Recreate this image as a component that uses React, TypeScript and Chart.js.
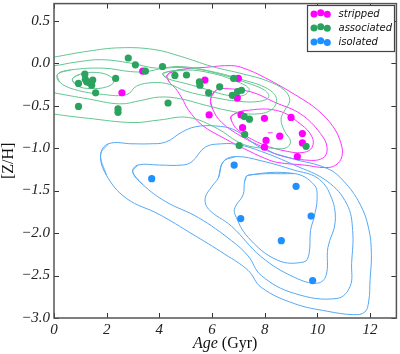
import React, { useEffect, useRef } from 'react';
import { Chart, registerables } from 'chart.js';
Chart.register(...registerables);

// ---- data ----
const xTickValues = [0, 2, 4, 6, 8, 10, 12];
const yTickValues = [-3.0, -2.5, -2.0, -1.5, -1.0, -0.5, 0.0, 0.5];

const seriesNames = ['stripped', 'associated', 'isolated'];

const strippedAge = [2.58, 3.37, 5.73, 7.00, 6.96, 5.89, 7.10, 7.99, 9.00, 7.16, 8.57, 8.05, 9.43, 9.43, 7.99, 9.24];
const strippedZH = [-0.35, -0.095, -0.20, -0.18, -0.41, -0.61, -0.61, -0.65, -0.64, -0.76, -0.86, -0.91, -0.83, -0.94, -0.99, -1.10];

const associatedAge = [0.93, 1.17, 1.19, 1.24, 1.34, 1.47, 1.43, 1.58, 0.93, 2.34, 2.43, 2.43, 2.82, 3.09, 3.47, 4.12, 4.33, 4.59, 5.03, 5.52, 5.54, 5.87, 6.29, 6.82, 6.97, 7.12, 6.77, 7.22, 7.42, 7.24, 9.57, 7.03];
const associatedZH = [-0.24, -0.13, -0.19, -0.22, -0.23, -0.20, -0.26, -0.35, -0.51, -0.18, -0.54, -0.58, 0.06, -0.02, -0.095, -0.04, -0.47, -0.145, -0.14, -0.22, -0.26, -0.35, -0.28, -0.18, -0.335, -0.32, -0.38, -0.63, -0.66, -0.84, -0.98, -0.97];

const isolatedAge = [3.71, 6.84, 9.19, 7.09, 9.76, 8.63, 9.82];
const isolatedZH = [-1.36, -1.20, -1.45, -1.83, -1.80, -2.09, -2.56];

// contour outlines (age, [Z/H])
const greenLevel1 = [[-0.5, 0.04], [0, 0.07], [1.3, 0.14], [2.5, 0.18], [3.8, 0.16], [4.8, 0.08], [6.0, -0.04], [7.2, -0.13], [8.1, -0.21], [8.75, -0.32], [8.95, -0.44], [8.75, -0.56], [8.62, -0.66], [8.75, -0.8], [8.98, -0.92], [8.8, -1.0], [8.2, -1.0], [7.6, -0.99], [7.0, -0.93], [6.2, -0.77], [5.1, -0.64], [4.0, -0.67], [3.0, -0.70], [1.3, -0.65], [0, -0.6], [-0.5, -0.57]];
const greenLevel2 = [[-0.5, -0.02], [0, -0.03], [0.8, 0.01], [1.8, 0.04], [2.9, 0.0], [3.9, -0.06], [4.8, -0.04], [6.0, -0.1], [7.2, -0.2], [8.1, -0.3], [8.45, -0.42], [8.25, -0.55], [7.6, -0.6], [6.8, -0.57], [5.8, -0.5], [4.8, -0.42], [4.0, -0.40], [3.3, -0.44], [2.5, -0.48], [1.27, -0.42], [0, -0.35], [-0.5, -0.32]];
const greenLevel3 = [[0.14, -0.13], [0.64, -0.08], [1.89, -0.06], [2.9, -0.1], [3.5, -0.1], [4.2, -0.06], [5.2, -0.06], [6.3, -0.13], [7.3, -0.23], [8.0, -0.32], [8.15, -0.40], [7.8, -0.45], [7.0, -0.45], [6.0, -0.40], [5.0, -0.33], [4.39, -0.25], [3.77, -0.23], [3.14, -0.27], [2.77, -0.37], [1.89, -0.37], [0.77, -0.31], [0.2, -0.22]];
const greenLevel4a = [[0.7, -0.19], [1.0, -0.13], [1.6, -0.11], [2.1, -0.15], [2.27, -0.22], [2.0, -0.28], [1.4, -0.30], [0.9, -0.27]];
const greenLevel4b = [[4.14, -0.12], [5.0, -0.08], [6.0, -0.12], [6.8, -0.2], [7.4, -0.3], [7.2, -0.38], [6.6, -0.38], [5.8, -0.31], [5.0, -0.24], [4.3, -0.18]];

const magentaLevel1 = [[4.3, -0.14], [4.74, -0.08], [5.74, -0.05], [6.74, -0.03], [7.2, -0.06], [8.0, -0.17], [9.3, -0.40], [10.0, -0.55], [10.6, -0.75], [10.9, -0.95], [10.93, -1.10], [10.7, -1.2], [10.3, -1.23], [9.5, -1.2], [8.5, -1.17], [8.0, -1.12], [7.24, -1.01], [6.49, -0.89], [5.62, -0.73], [5.1, -0.55], [4.87, -0.42], [4.62, -0.30], [4.37, -0.22]];
const magentaLevel2 = [[5.95, -0.42], [6.15, -0.32], [6.49, -0.30], [7.49, -0.34], [8.37, -0.46], [9.37, -0.60], [10.12, -0.83], [10.37, -1.0], [10.2, -1.12], [9.5, -1.14], [8.5, -1.08], [7.99, -1.0], [7.1, -0.86], [6.37, -0.70], [6.02, -0.54]];
const magentaLevel3 = [[6.74, -0.62], [7.24, -0.56], [8.49, -0.56], [9.37, -0.72], [9.8, -0.87], [9.8, -0.99], [9.5, -1.05], [8.87, -1.04], [7.87, -0.95], [6.99, -0.79], [6.74, -0.68]];
const magentaLevel4 = [[8.12, -0.82], [8.3, -0.82]];

const blueLevel1 = [[1.77, -1.08], [2.06, -0.95], [3.0, -0.95], [3.62, -0.95], [4.24, -0.93], [4.87, -0.81], [5.37, -0.75], [6.12, -0.74], [6.87, -0.79], [7.87, -1.0], [9.0, -1.12], [10.37, -1.24], [11.0, -1.39], [11.62, -1.66], [11.95, -1.95], [12.05, -2.25], [12.0, -2.55], [11.95, -2.8], [11.8, -2.93], [11.37, -2.96], [10.37, -2.92], [9.12, -2.83], [7.87, -2.64], [7.37, -2.44], [6.49, -2.25], [5.24, -2.01], [3.99, -1.78], [2.74, -1.59], [1.99, -1.32]];
const blueLevel2 = [[2.99, -1.28], [3.18, -1.20], [4.0, -1.20], [4.87, -1.20], [5.24, -1.16], [5.74, -0.99], [6.37, -0.95], [7.0, -0.96], [7.87, -1.04], [9.12, -1.20], [10.37, -1.39], [11.12, -1.66], [11.34, -1.97], [11.3, -2.36], [11.24, -2.63], [10.74, -2.77], [9.12, -2.71], [7.87, -2.5], [7.37, -2.27], [6.74, -2.09], [5.49, -1.82], [4.24, -1.63], [3.37, -1.43]];
const blueLevel3 = [[6.43, -1.16], [6.9, -1.1], [7.87, -1.15], [9.12, -1.26], [9.99, -1.35], [10.49, -1.55], [10.68, -1.86], [10.4, -2.17], [10.33, -2.5], [10.0, -2.59], [9.12, -2.52], [7.87, -2.28], [6.74, -1.92], [5.87, -1.72], [5.74, -1.59], [6.0, -1.45], [6.24, -1.35]];
const blueLevel4 = [[7.37, -1.32], [9.12, -1.30], [9.87, -1.43], [9.99, -1.59], [9.87, -1.82], [9.74, -1.97], [9.68, -2.25], [9.49, -2.34], [8.49, -2.32], [7.37, -2.05], [6.87, -1.78], [6.87, -1.70], [7.18, -1.55], [7.24, -1.39]];

const colors = {
  stripped: '#ff00ff',
  associated: '#2ca25f',
  isolated: '#1e90ff',
  greenLine: '#62c791',
  magentaLine: '#ff33ff',
  blueLine: '#55a8f5',
};

const pointsOf = (xs: number[], ys: number[]) => xs.map((x, i) => ({ x, y: ys[i] }));

const closedContour = (pts: number[][], color: string, closed = true) => {
  const seq = closed ? [pts[pts.length - 1], ...pts, pts[0], pts[1]] : pts;
  return {
    data: seq.map(([x, y]) => ({ x, y })),
    showLine: true,
    borderColor: color,
    backgroundColor: color,
    borderWidth: 1,
    pointRadius: 0,
    pointHoverRadius: 0,
    tension: 0.4,
    fill: false,
    order: 10,
  };
};

const serif = '"Liberation Serif", "Times New Roman", serif';

const decorPlugin = {
  id: 'decor',
  afterDraw(chart: any) {
    const { ctx, chartArea: a, scales } = chart;
    const xs = scales.x;
    const ys = scales.y;
    ctx.save();
    // inward ticks on all four sides
    ctx.strokeStyle = '#333';
    ctx.lineWidth = 1;
    const tl = 5;
    for (const t of xTickValues) {
      const px = Math.round(xs.getPixelForValue(t)) + 0.5;
      ctx.beginPath();
      ctx.moveTo(px, a.bottom);
      ctx.lineTo(px, a.bottom - tl);
      ctx.moveTo(px, a.top);
      ctx.lineTo(px, a.top + tl);
      ctx.stroke();
    }
    for (const t of yTickValues) {
      const py = Math.round(ys.getPixelForValue(t)) + 0.5;
      ctx.beginPath();
      ctx.moveTo(a.left, py);
      ctx.lineTo(a.left + tl, py);
      ctx.moveTo(a.right, py);
      ctx.lineTo(a.right - tl, py);
      ctx.stroke();
    }
    // frame
    ctx.strokeStyle = '#555';
    ctx.lineWidth = 1.5;
    ctx.strokeRect(a.left, a.top, a.right - a.left, a.bottom - a.top);

    // legend
    const lx = 307.5, ly = 5.5, lw = 87, lh = 46;
    ctx.fillStyle = '#fff';
    ctx.fillRect(lx, ly, lw, lh);
    ctx.strokeStyle = '#444';
    ctx.lineWidth = 1.2;
    ctx.strokeRect(lx, ly, lw, lh);
    const rowY = [13.7, 27.7, 41.8];
    const legendColors = [colors.stripped, colors.associated, colors.isolated];
    const dotX = [314, 320.7, 327.3];
    const dotDy = [0.3, -1.0, 0.6];
    ctx.font = 'italic 10px "DejaVu Sans", sans-serif';
    ctx.textBaseline = 'middle';
    ctx.textAlign = 'left';
    seriesNames.forEach((name, i) => {
      ctx.fillStyle = legendColors[i];
      dotX.forEach((dx, j) => {
        ctx.beginPath();
        ctx.arc(dx, rowY[i] + dotDy[j], 3.5, 0, Math.PI * 2);
        ctx.fill();
      });
      ctx.fillStyle = '#111';
      ctx.fillText(name, 338.5, rowY[i] + 0.5);
    });

    // x title: italic "Age" + upright "(Gyr)"
    const cx = (a.left + a.right) / 2;
    const p1 = 'Age';
    const p2 = ' (Gyr)';
    ctx.font = `italic 16px ${serif}`;
    const w1 = ctx.measureText(p1).width;
    ctx.font = `16px ${serif}`;
    const w2 = ctx.measureText(p2).width;
    const sx = cx - (w1 + w2) / 2;
    ctx.textBaseline = 'alphabetic';
    ctx.fillStyle = '#111';
    ctx.font = `italic 16px ${serif}`;
    ctx.fillText(p1, sx, 347.5);
    ctx.font = `16px ${serif}`;
    ctx.fillText(p2, sx + w1, 347.5);

    // y title
    ctx.save();
    ctx.translate(12.5, (a.top + a.bottom) / 2);
    ctx.rotate(-Math.PI / 2);
    ctx.textAlign = 'center';
    ctx.font = `16px ${serif}`;
    ctx.fillText('[Z/H]', 0, 0);
    ctx.restore();

    ctx.restore();
  },
};

export default function App() {
  const canvasRef = useRef<HTMLCanvasElement | null>(null);

  useEffect(() => {
    document.body.style.margin = '0';
    const canvas = canvasRef.current;
    if (!canvas) return;

    const scatterStyle = (label: string, color: string, xs: number[], ys: number[], order: number) => ({
      label,
      data: pointsOf(xs, ys),
      showLine: false,
      pointRadius: 3.6,
      pointHoverRadius: 3.6,
      pointBorderWidth: 0,
      backgroundColor: color,
      borderColor: color,
      order,
    });

    const chart = new Chart(canvas, {
      type: 'scatter',
      data: {
        datasets: [
          closedContour(greenLevel1, colors.greenLine),
          closedContour(greenLevel2, colors.greenLine),
          closedContour(greenLevel3, colors.greenLine),
          closedContour(greenLevel4a, colors.greenLine),
          closedContour(greenLevel4b, colors.greenLine),
          closedContour(blueLevel1, colors.blueLine),
          closedContour(blueLevel2, colors.blueLine),
          closedContour(blueLevel3, colors.blueLine),
          closedContour(blueLevel4, colors.blueLine),
          closedContour(magentaLevel1, colors.magentaLine),
          closedContour(magentaLevel2, colors.magentaLine),
          closedContour(magentaLevel3, colors.magentaLine),
          closedContour(magentaLevel4, colors.magentaLine, false),
          scatterStyle('stripped', colors.stripped, strippedAge, strippedZH, 3),
          scatterStyle('associated', colors.associated, associatedAge, associatedZH, 2),
          scatterStyle('isolated', colors.isolated, isolatedAge, isolatedZH, 1),
        ] as any,
      },
      options: {
        responsive: false,
        animation: false,
        events: [],
        layout: { padding: { top: 0, right: 1, left: 0, bottom: 0 } },
        plugins: { legend: { display: false }, tooltip: { enabled: false } },
        scales: {
          x: {
            type: 'linear',
            min: 0,
            max: 13,
            grid: { display: false, drawTicks: false },
            border: { display: false },
            ticks: {
              stepSize: 2,
              padding: 3,
              color: '#222',
              font: { family: serif, style: 'italic', size: 15 },
              callback: (v: any) => String(v),
            },
            afterBuildTicks: (s: any) => {
              s.ticks = xTickValues.map((v) => ({ value: v }));
            },
            afterFit: (s: any) => {
              s.height = 36;
              s.paddingLeft = 0;
              s.paddingRight = 0;
            },
          },
          y: {
            type: 'linear',
            min: -3.0,
            max: 0.7,
            grid: { display: false, drawTicks: false },
            border: { display: false },
            ticks: {
              stepSize: 0.5,
              padding: 4,
              color: '#222',
              font: { family: serif, style: 'italic', size: 15 },
              callback: (v: any) => Number(v).toFixed(1).replace('-', '\u2212'),
            },
            afterBuildTicks: (s: any) => {
              s.ticks = yTickValues.map((v) => ({ value: v }));
            },
            afterFit: (s: any) => {
              s.width = 54;
              s.paddingTop = 0;
              s.paddingBottom = 0;
            },
          },
        },
      },
      plugins: [decorPlugin],
    });

    return () => chart.destroy();
  }, []);

  return (
    <div style={{ width: 400, height: 354 }}>
      <canvas ref={canvasRef} width={400} height={354} style={{ display: 'block' }} />
    </div>
  );
}
